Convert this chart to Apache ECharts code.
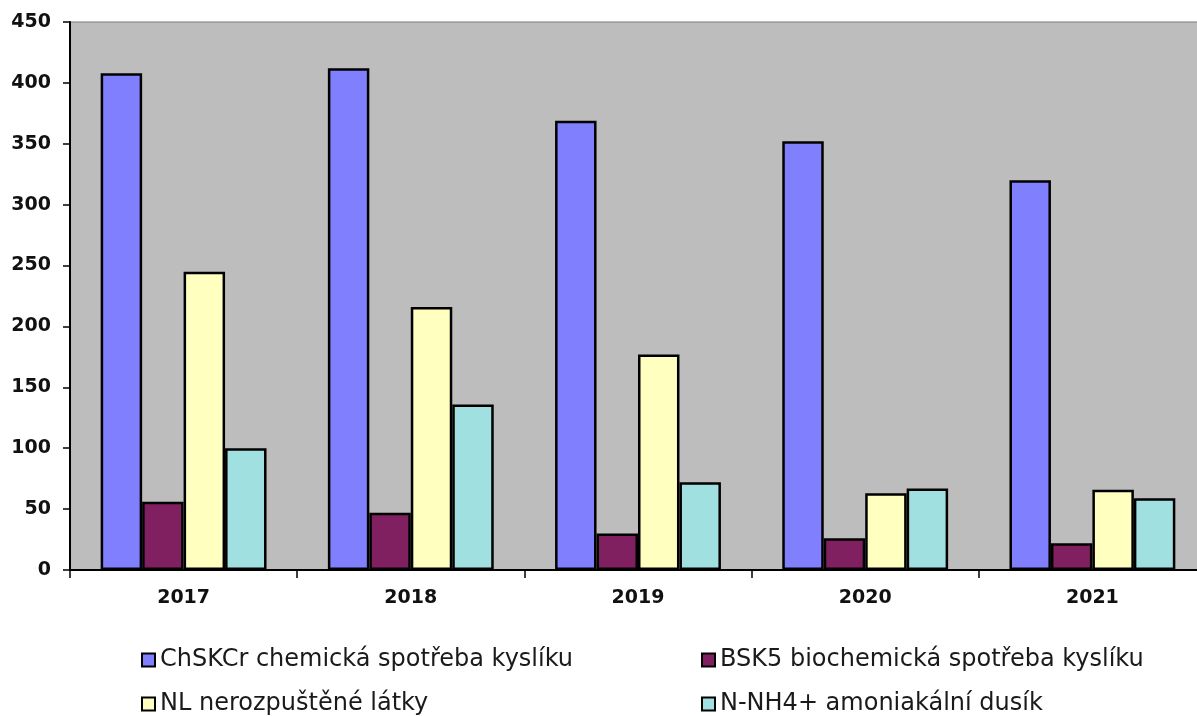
<!DOCTYPE html>
<html>
<head>
<meta charset="utf-8">
<script src="https://cdn.jsdelivr.net/npm/echarts@6/dist/echarts.min.js"></script>
<style>
  html, body { margin: 0; padding: 0; background: #fff; }
  #chart { width: 1197px; height: 716px; }
</style>
</head>
<body>
<div id="chart"></div>
<script>
// data
const years = ["2017", "2018", "2019", "2020", "2021"];
const chskValues = [408, 412, 369, 352, 320];
const bskValues = [56, 47, 30, 26, 22];
const nlValues = [245, 216, 177, 63, 66];
const nh4Values = [100, 136, 72, 67, 59];

const seriesNames = [
  "ChSKCr chemická spotřeba kyslíku",
  "BSK5 biochemická spotřeba kyslíku",
  "NL nerozpuštěné látky",
  "N-NH4+ amoniakální dusík"
];
const seriesColors = ["#8080ff", "#802060", "#ffffc0", "#a0e0e0"];

const chart = echarts.init(document.getElementById("chart"), null, { renderer: "canvas" });

const makeBar = (i, data) => ({
  name: seriesNames[i],
  type: "bar",
  data: data,
  barGap: "0%",
  barCategoryGap: "27%",
  itemStyle: { color: seriesColors[i], borderColor: "#000", borderWidth: 2.5 },
  emphasis: { disabled: true }
});

// one legend per item, 2 x 2 layout
const legendItem = (name, left, top) => ({
  left: left,
  top: top,
  padding: 0,
  itemWidth: 13, itemHeight: 13,
  icon: "rect",
  data: [name],
  textStyle: { fontFamily: "DejaVu Sans", fontSize: 24, color: "#1a1a1a", lineHeight: 22 }
});

const axisFont = { fontFamily: "DejaVu Sans", fontWeight: "bold", fontSize: 19, color: "#111" };

const option = {
  animation: false,
  grid: {
    left: 70, top: 22, bottom: 146, width: 1136,
    outerBoundsMode: "none",
    show: true,
    backgroundColor: "#bdbdbd",
    borderColor: "#7a7a7a",
    borderWidth: 1
  },
  legend: [
    legendItem(seriesNames[0], 141, 648),
    legendItem(seriesNames[2], 141, 692),
    legendItem(seriesNames[1], 701, 648),
    legendItem(seriesNames[3], 701, 692)
  ],
  xAxis: {
    type: "category",
    data: years,
    axisLine: { lineStyle: { color: "#000", width: 2 } },
    axisTick: { show: true, length: 8, lineStyle: { color: "#000", width: 1.5 } },
    axisLabel: Object.assign({ margin: 19 }, axisFont),
    splitLine: { show: false }
  },
  yAxis: {
    type: "value",
    min: 0, max: 450, interval: 50,
    axisLine: { show: true, lineStyle: { color: "#000", width: 2 } },
    axisTick: { show: true, length: 7, lineStyle: { color: "#000", width: 1.5 } },
    axisLabel: Object.assign({ margin: 19 }, axisFont),
    splitLine: { show: false }
  },
  series: [
    makeBar(0, chskValues),
    makeBar(1, bskValues),
    makeBar(2, nlValues),
    makeBar(3, nh4Values)
  ]
};

chart.setOption(option);
</script>
</body>
</html>
